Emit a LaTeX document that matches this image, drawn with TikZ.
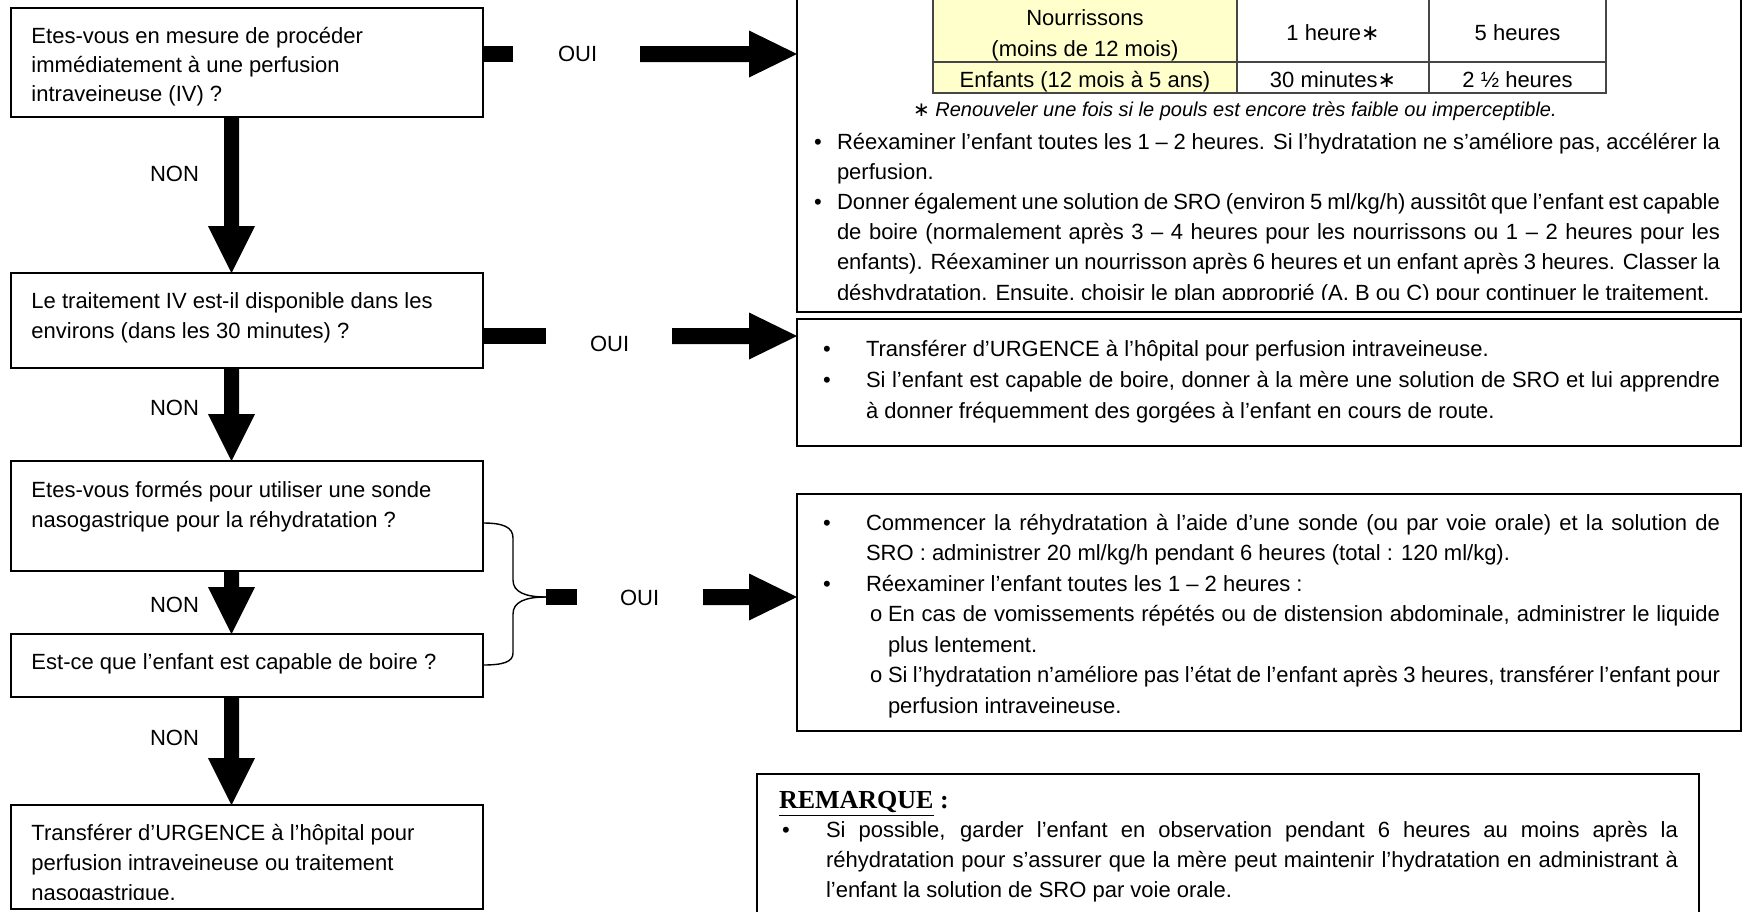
\documentclass[tikz,border=0pt]{standalone}
\usepackage{fontspec}
\setmainfont{Liberation Sans}
\newfontfamily\remfont{Liberation Serif}
\newfontfamily\symfont{DejaVu Sans}
\usetikzlibrary{calc}
\definecolor{tabyellow}{RGB}{255,255,204}
\definecolor{tabline}{RGB}{70,70,70}
\newcounter{tn}
\newcommand\mysz{\fontsize{11pt}{15pt}\selectfont}
\newcommand\mystar{{\symfont ∗}}
\newcommand\mytl[3]{\stepcounter{tn}\node[txt] (t\arabic{tn}) at (#1,#2) {#3};}
\newcommand\myjl[4]{\stepcounter{tn}\node[txt] (t\arabic{tn}) at (#1,#2) {\makebox[#3][s]{#4}};}
\newcommand\myctl[3]{\stepcounter{tn}\node[ctxt] (t\arabic{tn}) at (#1,#2) {#3};}
\newcommand\myvarrow[2]{\fill ($(#1)+(-7.5,0)$) -- ($(#2)+(-7.5,-47)$) -- ($(#2)+(-23.5,-47)$) -- (#2) -- ($(#2)+(23.5,-47)$) -- ($(#2)+(7.5,-47)$) -- ($(#1)+(7.5,0)$) -- cycle;}
\newcommand\myharrow[2]{\fill ($(#1)+(0,-8)$) -- ($(#2)+(-48,-8)$) -- ($(#2)+(-48,-23.5)$) -- (#2) -- ($(#2)+(-48,23.5)$) -- ($(#2)+(-48,8)$) -- ($(#1)+(0,8)$) -- cycle;}
\newcommand\mystub[2]{\fill ($(#1)+(0,-8)$) rectangle ($(#2)+(0,8)$);}
\tikzset{
  box/.style={draw=black, line width=0.8pt, anchor=north west, inner sep=0pt, outer sep=0pt},
  txt/.style={anchor=base west, inner sep=0pt, outer sep=0pt, font=\mysz},
  ctxt/.style={anchor=base, inner sep=0pt, outer sep=0pt, font=\mysz},
  brace/.style={draw=black, line width=0.7pt},
  tabrule/.style={draw=tabline, line width=0.6pt},
}
\begin{document}
\begin{tikzpicture}[x=0.5pt,y=-0.5pt]
\useasboundingbox (0,0) rectangle (1743,911);
\clip (0,0) rectangle (1743,911);
\fill[white] (0,0) rectangle (1743,911);

% ---------- boxes ----------
\node[box, minimum width=236pt, minimum height=54.5pt] (q1) at (11,8) {};
\node[box, minimum width=236pt, minimum height=47.5pt] (q2) at (11,273) {};
\node[box, minimum width=236pt, minimum height=55pt] (q3) at (11,461) {};
\node[box, minimum width=236pt, minimum height=31.5pt] (q4) at (11,634) {};
\node[box, minimum width=236pt, minimum height=52pt] (q5) at (11,805) {};
\node[box, minimum width=472pt, minimum height=171pt] (r1) at (797,-30) {};
\node[box, minimum width=472pt, minimum height=63.5pt] (r2) at (797,319) {};
\node[box, minimum width=472pt, minimum height=118.5pt] (r3) at (797,494) {};
\node[box, minimum width=471pt, minimum height=83pt] (rem) at (757,774) {};

% ---------- table ----------
\fill[tabyellow] (933,-30) rectangle (1237,93);
\draw[tabrule] (933,-30) -- (933,93) -- (1606,93) -- (1606,-30);
\draw[tabrule] (1237,-30) -- (1237,93);
\draw[tabrule] (1429,-30) -- (1429,93);
\draw[tabrule] (933,62) -- (1606,62);
\myctl{1085}{25}{Nourrissons}
\myctl{1085}{56}{(moins de 12 mois)}
\myctl{1333}{40}{1 heure\mystar}
\myctl{1517.5}{40}{5 heures}
\myctl{1085}{87}{Enfants (12 mois à 5 ans)}
\myctl{1333}{87}{30 minutes\mystar}
\myctl{1517.5}{87}{2 ½ heures}
\mytl{913}{116}{\fontsize{10pt}{12pt}\selectfont\mystar{} \itshape Renouveler une fois si le pouls est encore très faible ou imperceptible.}

% ---------- left texts ----------
\mytl{31.5}{43}{Etes-vous en mesure de procéder}
\mytl{31.5}{72}{immédiatement à une perfusion}
\mytl{31.5}{101}{intraveineuse (IV) ?}
\mytl{31.5}{308}{Le traitement IV est-il disponible dans les}
\mytl{31.5}{338}{environs (dans les 30 minutes) ?}
\mytl{31.5}{497}{Etes-vous formés pour utiliser une sonde}
\mytl{31.5}{527}{nasogastrique pour la réhydratation ?}
\mytl{31.5}{669}{Est-ce que l’enfant est capable de boire ?}
\mytl{31.5}{840}{Transférer d’URGENCE à l’hôpital pour}
\mytl{31.5}{870}{perfusion intraveineuse ou traitement}
\begin{scope}
\clip (11,805) rectangle (483,899);
\mytl{31.5}{900}{nasogastrique.}
\end{scope}

% ---------- labels ----------
\mytl{150}{181}{NON}
\mytl{150}{415}{NON}
\mytl{150}{612}{NON}
\mytl{150}{745}{NON}
\mytl{558}{61}{OUI}
\mytl{590}{351}{OUI}
\mytl{620}{605}{OUI}

% ---------- right box 1 ----------
\mytl{814}{149}{•}
\myjl{837}{149}{441.5pt}{Réexaminer l’enfant toutes les 1 – 2 heures. Si l’hydratation ne s’améliore pas, accélérer la}
\mytl{837}{179}{perfusion.}
\mytl{814}{209}{•}
\myjl{837}{209}{441.5pt}{Donner également une solution de SRO (environ 5 ml/kg/h) aussitôt que l’enfant est capable}
\myjl{837}{239}{441.5pt}{de boire (normalement après 3 – 4 heures pour les nourrissons ou 1 – 2 heures pour les}
\myjl{837}{269}{441.5pt}{enfants). Réexaminer un nourrisson après 6 heures et un enfant après 3 heures. Classer la}
\begin{scope}
\clip (797,0) rectangle (1741,299);
\mytl{837}{300}{déshydratation. Ensuite, choisir le plan approprié (A, B ou C) pour continuer le traitement.}
\end{scope}

% ---------- right box 2 ----------
\mytl{823}{356}{•}
\mytl{866}{356}{Transférer d’URGENCE à l’hôpital pour perfusion intraveineuse.}
\mytl{823}{387}{•}
\myjl{866}{387}{427pt}{Si l’enfant est capable de boire, donner à la mère une solution de SRO et lui apprendre}
\mytl{866}{418}{à donner fréquemment des gorgées à l’enfant en cours de route.}

% ---------- right box 3 ----------
\mytl{823}{530}{•}
\myjl{866}{530}{427pt}{Commencer la réhydratation à l’aide d’une sonde (ou par voie orale) et la solution de}
\mytl{866}{560}{SRO : administrer 20 ml/kg/h pendant 6 heures (total : 120 ml/kg).}
\mytl{823}{591}{•}
\mytl{866}{591}{Réexaminer l’enfant toutes les 1 – 2 heures :}
\mytl{870}{621}{o}
\myjl{888}{621}{416pt}{En cas de vomissements répétés ou de distension abdominale, administrer le liquide}
\mytl{888}{652}{plus lentement.}
\mytl{870}{682}{o}
\myjl{888}{682}{416pt}{Si l’hydratation n’améliore pas l’état de l’enfant après 3 heures, transférer l’enfant pour}
\mytl{888}{713}{perfusion intraveineuse.}

% ---------- remarque ----------
\mytl{779}{808}{\remfont\bfseries\fontsize{13pt}{15pt}\selectfont\underline{REMARQUE} :}
\mytl{782}{837}{•}
\myjl{826}{837}{426pt}{Si possible, garder l’enfant en observation pendant 6 heures au moins après la}
\myjl{826}{867}{426pt}{réhydratation pour s’assurer que la mère peut maintenir l’hydratation en administrant à}
\mytl{826}{897}{l’enfant la solution de SRO par voie orale.}

% ---------- vertical arrows ----------
\coordinate (ax) at (231.5,0);
\myvarrow{ax |- q1.south}{ax |- q2.north}
\myvarrow{ax |- q2.south}{ax |- q3.north}
\myvarrow{ax |- q3.south}{ax |- q4.north}
\myvarrow{ax |- q4.south}{ax |- q5.north}

% ---------- horizontal arrows ----------
\coordinate (y1) at (0,54);
\coordinate (y2) at (0,336);
\coordinate (y3) at (0,597);
\coordinate (s1) at (513,54);
\coordinate (p1) at (640,54);
\coordinate (s2) at (546,336);
\coordinate (p2) at (672,336);
\coordinate (s3a) at (546,597);
\coordinate (s3b) at (577,597);
\coordinate (p3) at (703,597);
\mystub{q1.east |- y1}{s1}
\myharrow{p1}{r1.west |- y1}
\mystub{q2.east |- y2}{s2}
\myharrow{p2}{r2.west |- y2}
\mystub{s3a}{s3b}
\myharrow{p3}{r3.west |- y3}

% ---------- brace ----------
\coordinate (b1) at (0,523);
\coordinate (b2) at (0,665);
\draw[brace] (q3.east |- b1) .. controls (503,523) and (513,527) .. (513,538) -- (513,580) .. controls (513,592) and (525,597) .. (s3a);
\draw[brace] (s3a) .. controls (525,597) and (513,602) .. (513,614) -- (513,653) .. controls (513,662) and (503,665) .. (q4.east |- b2);
\end{tikzpicture}
\end{document}
